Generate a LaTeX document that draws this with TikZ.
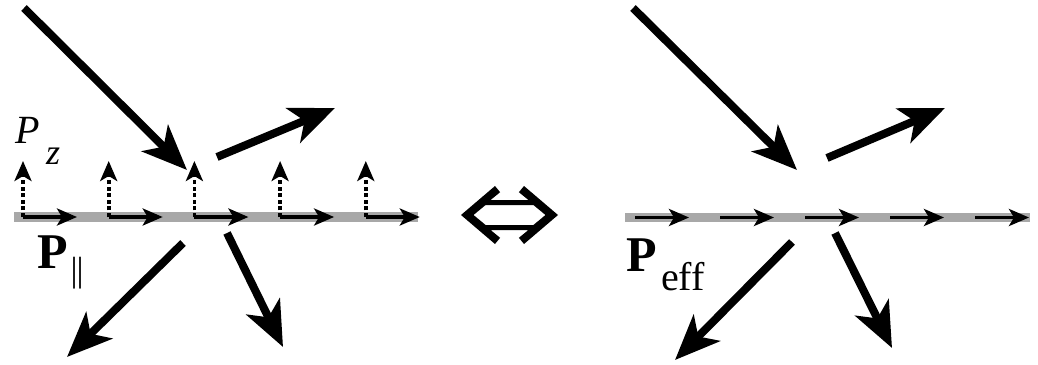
\documentclass[tikz,border=0pt]{standalone}
\usepackage{fontspec}
\setmainfont{Liberation Serif}
\usetikzlibrary{arrows.meta}
\definecolor{filmgray}{RGB}{168,168,168}
\tikzset{
  beam/.style={line width=8pt, -{Stealth[length=45pt,width=37pt,inset=12pt]}},
  film/.style={filmgray, line width=10pt},
  pol/.style={line width=3.6pt, -{Stealth[length=20pt,width=17pt,inset=5pt]}},
  polz/.style={pol, dash pattern=on 4pt off 2.6pt},
  lbl/.style={inner sep=0pt, anchor=base west},
}
\begin{document}
\begin{tikzpicture}[x=1pt, y=-1pt]
\useasboundingbox (0,0) rectangle (1038,364);

% ---------- left: film with in-plane and normal polarization ----------
\coordinate (fl0) at (14,217);
\coordinate (fl1) at (418,217);
\draw[film] (fl0) -- (fl1);
\foreach \i in {0,...,4} {
  \coordinate (pa\i) at ({23+85.7*\i},217);
  \coordinate (pb\i) at ({77+85.7*\i},217);
  \coordinate (pc\i) at ({23+85.7*\i},161);
  \draw[pol] (pa\i) -- (pb\i);
  \draw[polz] (pa\i) -- (pc\i);
}

\coordinate (la0) at (24,8);   \coordinate (la1) at (187,170);
\coordinate (lb0) at (217,157); \coordinate (lb1) at (335,108);
\coordinate (lc0) at (183,243); \coordinate (lc1) at (67,357);
\coordinate (ld0) at (227,233); \coordinate (ld1) at (283,347);
\draw[beam] (la0) -- (la1);
\draw[beam] (lb0) -- (lb1);
\draw[beam] (lc0) -- (lc1);
\draw[beam] (ld0) -- (ld1);

\node[lbl, font=\fontsize{40}{40}\selectfont\itshape] (pz) at (15,143) {P};
\node[lbl, font=\fontsize{36}{36}\selectfont\itshape] (pzsub) at (46,164) {z};
\node[lbl, font=\fontsize{50}{50}\selectfont\bfseries] (ppar) at (37,268) {P};
\node[inner sep=0pt, font=\fontsize{35}{35}\selectfont] (pparsub) at (77,273) {|\kern-0.03em|};

% ---------- equivalence sign ----------
\fill[even odd rule, shift={(509.5,215)}]
  (-48.5,0) -- (-14.5,-29) -- (-9.4,-22.8) -- (-18.9,-15) -- (18.9,-15)
  -- (9.4,-22.8) -- (14.5,-29) -- (48.5,0) -- (14.5,29) -- (9.4,22.8)
  -- (18.9,15) -- (-18.9,15) -- (-9.4,22.8) -- (-14.5,29) -- cycle
  (-36,0) -- (-23.9,-10) -- (23.9,-10) -- (36,0) -- (23.9,10)
  -- (-23.9,10) -- cycle;

% ---------- right: film with effective polarization ----------
\coordinate (fr0) at (625,217.5);
\coordinate (fr1) at (1030,217.5);
\draw[film, line width=9pt] (fr0) -- (fr1);
\foreach \i in {0,...,4} {
  \coordinate (qa\i) at ({635+85*\i},217.5);
  \coordinate (qb\i) at ({689+85*\i},217.5);
  \draw[pol] (qa\i) -- (qb\i);
}

\coordinate (ra0) at (633,8);   \coordinate (ra1) at (797,170);
\coordinate (rb0) at (827,158); \coordinate (rb1) at (945,108);
\coordinate (rc0) at (792,242); \coordinate (rc1) at (675,360);
\coordinate (rd0) at (835,233); \coordinate (rd1) at (892,348);
\draw[beam] (ra0) -- (ra1);
\draw[beam] (rb0) -- (rb1);
\draw[beam] (rc0) -- (rc1);
\draw[beam] (rd0) -- (rd1);

\node[lbl, font=\fontsize{50}{50}\selectfont\bfseries] (peff) at (626,271) {P};
\node[lbl, font=\fontsize{40}{40}\selectfont] (peffsub) at (661,290) {eff};
\end{tikzpicture}
\end{document}
